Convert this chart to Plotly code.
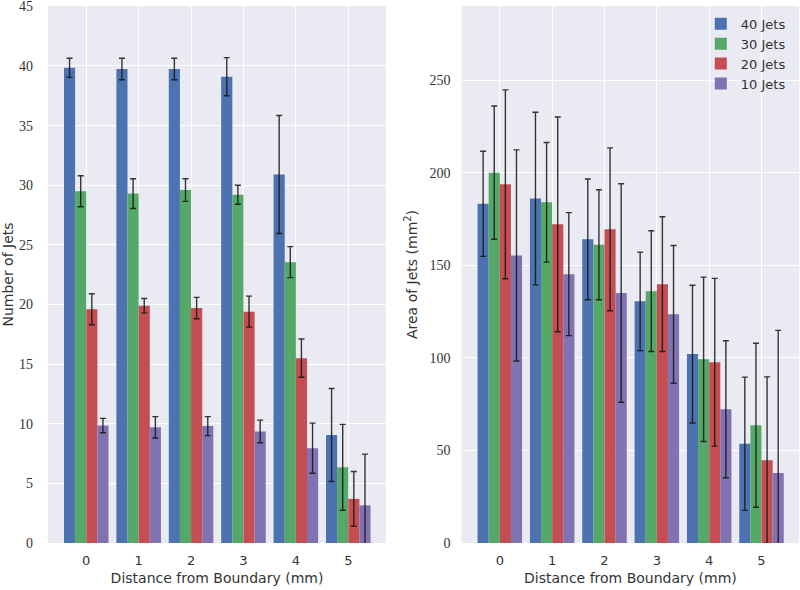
import plotly.graph_objects as go

distances = [0, 1, 2, 3, 4, 5]
series_names = ["40 Jets", "30 Jets", "20 Jets", "10 Jets"]
colors = ["#4C72B0", "#55A868", "#C44E52", "#8172B2"]

# Number of jets (mean, error)
count_40 = [39.85, 39.75, 39.75, 39.1, 30.9, 9.05]
count_40_err = [0.8, 0.9, 0.9, 1.6, 4.95, 3.9]
count_30 = [29.5, 29.3, 29.6, 29.2, 23.55, 6.35]
count_30_err = [1.3, 1.25, 0.95, 0.8, 1.3, 3.6]
count_20 = [19.6, 19.9, 19.7, 19.4, 15.5, 3.7]
count_20_err = [1.3, 0.6, 0.9, 1.3, 1.6, 2.3]
count_10 = [9.85, 9.7, 9.8, 9.35, 7.95, 3.15]
count_10_err = [0.6, 0.9, 0.8, 0.95, 2.1, 4.3]

# Area of jets (mean, error)
area_40 = [183.2, 186.0, 164.0, 130.5, 102.0, 53.6]
area_40_err = [28.4, 46.6, 32.6, 26.6, 37.2, 36.0]
area_30 = [200.0, 184.0, 161.1, 136.0, 99.2, 63.6]
area_30_err = [36.0, 32.3, 29.7, 32.6, 44.4, 44.3]
area_20 = [193.7, 172.1, 169.4, 139.8, 97.6, 44.7]
area_20_err = [51.0, 58.0, 44.0, 36.4, 45.3, 45.0]
area_10 = [155.3, 145.2, 135.0, 123.5, 72.2, 37.8]
area_10_err = [57.0, 33.2, 59.0, 37.2, 37.0, 77.0]

counts = [count_40, count_30, count_20, count_10]
counts_err = [count_40_err, count_30_err, count_20_err, count_10_err]
areas = [area_40, area_30, area_20, area_10]
areas_err = [area_40_err, area_30_err, area_20_err, area_10_err]

fig = go.Figure()

err_style = dict(type="data", color="rgba(20,20,20,0.85)", thickness=1.4, width=3)

for i, name in enumerate(series_names):
    fig.add_trace(go.Bar(
        x=distances, y=counts[i], name=name, marker_color=colors[i],
        marker_line_width=0, offsetgroup=str(i),
        error_y=dict(array=counts_err[i], **err_style),
        xaxis="x", yaxis="y", showlegend=False,
    ))
for i, name in enumerate(series_names):
    fig.add_trace(go.Bar(
        x=distances, y=areas[i], name=name, marker_color=colors[i],
        marker_line_width=0, offsetgroup=str(i),
        error_y=dict(array=areas_err[i], **err_style),
        xaxis="x2", yaxis="y2", showlegend=True,
    ))

tick_serif = dict(family="Liberation Serif", size=14, color="#333333")
tick_sans = dict(family="DejaVu Sans", size=13, color="#333333")
title_font = dict(family="DejaVu Sans", size=14, color="#333333")

common_x = dict(
    tickmode="array", tickvals=distances, ticktext=[str(d) for d in distances],
    range=[-0.73, 5.72], showgrid=True, gridcolor="white", gridwidth=1.3,
    zeroline=False, showline=False, ticks="", tickfont=tick_sans,
    ticklabelstandoff=8, automargin=False,
    title=dict(text="Distance from Boundary (mm)", font=title_font, standoff=6),
)

fig.update_layout(
    width=800, height=590,
    margin=dict(l=0, r=0, t=0, b=0),
    paper_bgcolor="white", plot_bgcolor="#EAEAF2",
    barmode="group", bargap=0.15, bargroupgap=0,
    xaxis=dict(domain=[0.06, 0.4825], anchor="y", **common_x),
    xaxis2=dict(domain=[0.577, 0.999], anchor="y2", **common_x),
    yaxis=dict(
        domain=[0.0797, 0.9898], anchor="x", range=[0, 45.03],
        tickmode="array", tickvals=[0, 5, 10, 15, 20, 25, 30, 35, 40, 45],
        showgrid=True, gridcolor="white", gridwidth=1.3, zeroline=False,
        showline=False, ticks="", tickfont=tick_serif, ticklabelstandoff=14,
        ticklabeloverflow="allow", automargin=False,
        title=dict(text="Number of Jets", font=title_font, standoff=10),
    ),
    yaxis2=dict(
        domain=[0.0797, 0.9898], anchor="x2", range=[0, 290],
        tickmode="array", tickvals=[0, 50, 100, 150, 200, 250],
        showgrid=True, gridcolor="white", gridwidth=1.3, zeroline=False,
        showline=False, ticks="", tickfont=tick_serif, ticklabelstandoff=10,
        ticklabeloverflow="allow", automargin=False,
        title=dict(text="Area of Jets (mm<sup>2</sup>)", font=title_font, standoff=8),
    ),
    legend=dict(
        x=0.876, y=0.985, xanchor="left", yanchor="top",
        bgcolor="rgba(0,0,0,0)", font=dict(family="DejaVu Sans", size=13, color="#333333"),
        itemwidth=30, tracegroupgap=0, traceorder="normal",
    ),
)

fig.write_html("out.html", config={"displayModeBar": False},
               post_script="document.body.style.margin='0';")
